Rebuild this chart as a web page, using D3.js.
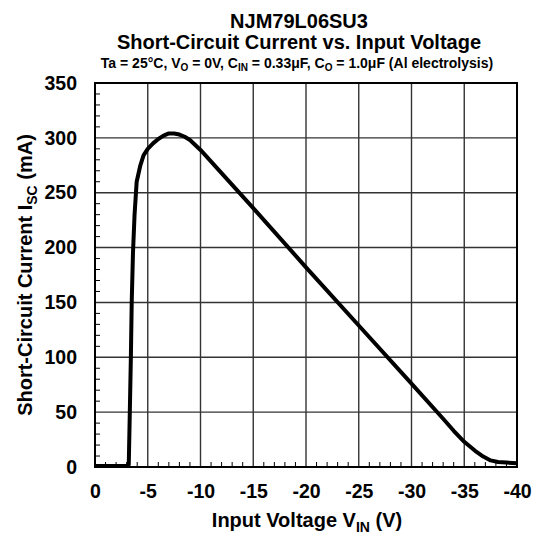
<!DOCTYPE html>
<html><head><meta charset="utf-8">
<script src="https://cdn.jsdelivr.net/npm/d3@7/dist/d3.min.js"></script>
<style>
body{margin:0;background:#fff;}
text{font-family:"Liberation Sans",Arial,sans-serif;font-weight:bold;fill:#000;}
</style></head>
<body>
<svg id="c" width="536" height="534"></svg>
<script>
const vin = [0, -1, -2, -3, -3.2, -3.3, -3.4, -3.48, -3.6, -3.75, -3.95, -4.3, -4.6, -5, -5.5, -6, -6.5, -7, -7.5, -8, -8.5, -9, -10, -15, -20, -25, -30, -33, -34, -35, -36, -36.8, -37.5, -38.2, -39, -40];
const isc = [1, 1, 1, 1, 2, 50, 100, 150, 195, 230, 260, 275, 284, 290, 295, 299, 302, 304, 304, 303, 301, 298, 289, 236, 182, 129, 76, 44, 33, 23, 15, 9.5, 6, 4.5, 4, 3.5];
const xTicks = [0, -5, -10, -15, -20, -25, -30, -35, -40];
const yTicks = [0, 50, 100, 150, 200, 250, 300, 350];

const svg = d3.select("#c");
const L = 95, R = 517, T = 83, B = 467;
const x = d3.scaleLinear().domain([0, -40]).range([L, R]);
const y = d3.scaleLinear().domain([0, 350]).range([B, T]);
const FF = '"Liberation Sans",Arial,sans-serif';

// grid
svg.append("g").selectAll("line").data(xTicks.slice(1, -1)).join("line")
  .attr("x1", d => x(d)).attr("x2", d => x(d)).attr("y1", T).attr("y2", B)
  .attr("stroke", "#333").attr("stroke-width", 1.4);
svg.append("g").selectAll("line").data(yTicks.slice(1, -1)).join("line")
  .attr("y1", d => y(d)).attr("y2", d => y(d)).attr("x1", L).attr("x2", R)
  .attr("stroke", "#333").attr("stroke-width", 1.4);

// minor ticks
const xMinor = d3.range(0, -41, -1).filter(v => v % 5 !== 0);
const yMinor = d3.range(0, 351, 10).filter(v => v % 50 !== 0);
svg.append("g").selectAll("line").data(xMinor).join("line")
  .attr("x1", d => x(d)).attr("x2", d => x(d)).attr("y1", B).attr("y2", B - 5)
  .attr("stroke", "#000").attr("stroke-width", 1);
svg.append("g").selectAll("line").data(yMinor).join("line")
  .attr("y1", d => y(d)).attr("y2", d => y(d)).attr("x1", L).attr("x2", L + 5)
  .attr("stroke", "#000").attr("stroke-width", 1);

// frame
svg.append("rect").attr("x", L).attr("y", T).attr("width", R - L).attr("height", B - T)
  .attr("fill", "none").attr("stroke", "#000").attr("stroke-width", 2);

// tick labels via d3 axes
const xAxis = svg.append("g").attr("transform", `translate(0,${B})`)
  .call(d3.axisBottom(x).tickValues(xTicks).tickSize(0).tickPadding(17).tickFormat(d => String(d)));
xAxis.select(".domain").remove();
xAxis.selectAll("text").attr("font-size", 19.5).style("font-family", FF).style("font-weight", "bold");
const yAxis = svg.append("g").attr("transform", `translate(${L},0)`)
  .call(d3.axisLeft(y).tickValues(yTicks).tickSize(0).tickPadding(18));
yAxis.select(".domain").remove();
yAxis.selectAll("text").attr("font-size", 19.5).style("font-family", FF).style("font-weight", "bold");

// curve
const pts = vin.map((v, i) => [v, isc[i]]);
svg.append("path").datum(pts)
  .attr("d", d3.line().x(d => x(d[0])).y(d => y(d[1])))
  .attr("fill", "none").attr("stroke", "#000").attr("stroke-width", 4).attr("stroke-linejoin", "round");

// titles
svg.append("text").attr("x", 299).attr("y", 28).attr("text-anchor", "middle").attr("font-size", 20).text("NJM79L06SU3");
svg.append("text").attr("x", 299).attr("y", 49).attr("text-anchor", "middle").attr("font-size", 20).text("Short-Circuit Current vs. Input Voltage");
const t3 = svg.append("text").attr("x", 297).attr("y", 68).attr("text-anchor", "middle").attr("font-size", 14);
t3.append("tspan").text("Ta = 25°C, V");
t3.append("tspan").attr("font-size", 10).attr("dy", 3).text("O");
t3.append("tspan").attr("dy", -3).text(" = 0V, C");
t3.append("tspan").attr("font-size", 10).attr("dy", 3).text("IN");
t3.append("tspan").attr("dy", -3).text(" = 0.33μF, C");
t3.append("tspan").attr("font-size", 10).attr("dy", 3).text("O");
t3.append("tspan").attr("dy", -3).text(" = 1.0μF (Al electrolysis)");

const xt = svg.append("text").attr("x", 307).attr("y", 527).attr("text-anchor", "middle").attr("font-size", 20);
xt.append("tspan").text("Input Voltage V");
xt.append("tspan").attr("font-size", 14).attr("dy", 5).text("IN");
xt.append("tspan").attr("dy", -5).text(" (V)");

const yt = svg.append("text").attr("transform", `translate(32,${(T + B) / 2}) rotate(-90)`).attr("text-anchor", "middle").attr("font-size", 20);
yt.append("tspan").text("Short-Circuit Current I");
yt.append("tspan").attr("font-size", 14).attr("dy", 5).text("SC");
yt.append("tspan").attr("dy", -5).text(" (mA)");
</script>
</body></html>
